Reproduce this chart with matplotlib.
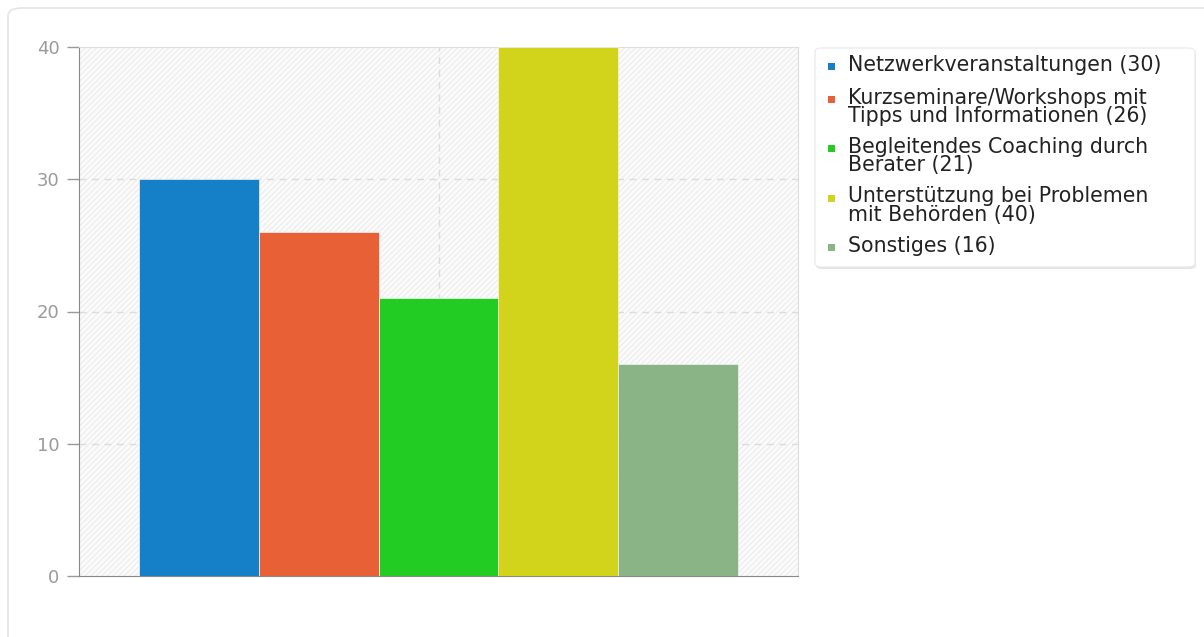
import matplotlib
matplotlib.use("Agg")
import matplotlib.pyplot as plt
from matplotlib.patches import Rectangle, FancyBboxPatch

categories = [
    "Netzwerkveranstaltungen",
    "Kurzseminare/Workshops mit\nTipps und Informationen",
    "Begleitendes Coaching durch\nBerater",
    "Unterstützung bei Problemen\nmit Behörden",
    "Sonstiges",
]
values = [30, 26, 21, 40, 16]
colors = ["#1580c8", "#e86035", "#22cc22", "#d2d41b", "#8ab386"]
yticks = [0, 10, 20, 30, 40]

plt.rcParams["font.family"] = "DejaVu Sans"
plt.rcParams["hatch.color"] = "#ececec"
plt.rcParams["hatch.linewidth"] = 0.8

W, H = 1204, 637
fig = plt.figure(figsize=(W / 100, H / 100), dpi=100)


def px(x, y):
    # pixel position (from top-left) -> figure fraction
    return x / W, 1 - y / H


# white card with a thin rounded border
card = FancyBboxPatch(px(8, 700), 1.2, (700 - 8) / H,
                      boxstyle="round,pad=0,rounding_size=0.012",
                      transform=fig.transFigure, facecolor="white",
                      edgecolor="#e4e4e4", linewidth=1.2, zorder=-5)
fig.add_artist(card)

ax = fig.add_axes([79 / W, 1 - 576 / H, 719 / W, 529 / H])
ax.set_facecolor("#fbfbfb")
ax.add_patch(Rectangle((0, 0), 1, 1, transform=ax.transAxes, facecolor="none",
                       hatch="//////", linewidth=0, zorder=0))

x = list(range(len(values)))
ax.bar(x, values, width=1.0, color=colors, edgecolor="#f4f4f4", linewidth=0.5,
       zorder=3)
ax.set_xlim(-1, 5)
ax.set_ylim(0, 40)

ax.set_yticks(yticks)
ax.set_xticks([])
ax.tick_params(axis="y", colors="#999999", labelcolor="#9a9a9a",
               labelsize=13, length=9, width=1, pad=5)

for y in yticks[1:-1]:
    ax.axhline(y, color="#dcdcdc", linestyle=(0, (5, 4)), linewidth=1, zorder=1)
ax.axvline(2, color="#dcdcdc", linestyle=(0, (5, 4)), linewidth=1, zorder=1)

ax.spines["left"].set_color("#888888")
ax.spines["bottom"].set_color("#888888")
ax.spines["top"].set_color("#dddddd")
ax.spines["right"].set_color("#dddddd")

# legend box
lx0, ly0, lx1, ly1 = 815, 48, 1195, 267
shadow = FancyBboxPatch(px(lx0 + 1, ly1 + 2), (lx1 - lx0) / W, (ly1 - ly0) / H,
                        boxstyle="round,pad=0,rounding_size=0.006",
                        transform=fig.transFigure, facecolor="#e2e2e2",
                        edgecolor="none", zorder=4)
frame = FancyBboxPatch(px(lx0, ly1), (lx1 - lx0) / W, (ly1 - ly0) / H,
                       boxstyle="round,pad=0,rounding_size=0.006",
                       transform=fig.transFigure, facecolor="white",
                       edgecolor="#ececec", linewidth=1, zorder=5)
fig.add_artist(shadow)
fig.add_artist(frame)

base = 70
for name, v, c in zip(categories, values, colors):
    label = f"{name} ({v})"
    nlines = label.count("\n") + 1
    sx, sy = px(828, base - 3.5)
    fig.add_artist(Rectangle((sx, sy - 3.5 / H), 7 / W, 7 / H, transform=fig.transFigure,
                             facecolor=c, edgecolor="none", zorder=6))
    tx, ty = px(848, base - 15)
    fig.text(tx, ty, label, fontsize=14.8, color="#222222", va="top",
             ha="left", linespacing=0.88, zorder=6)
    base += 17 * nlines + 15.5

fig.savefig("out.png", dpi=100)
